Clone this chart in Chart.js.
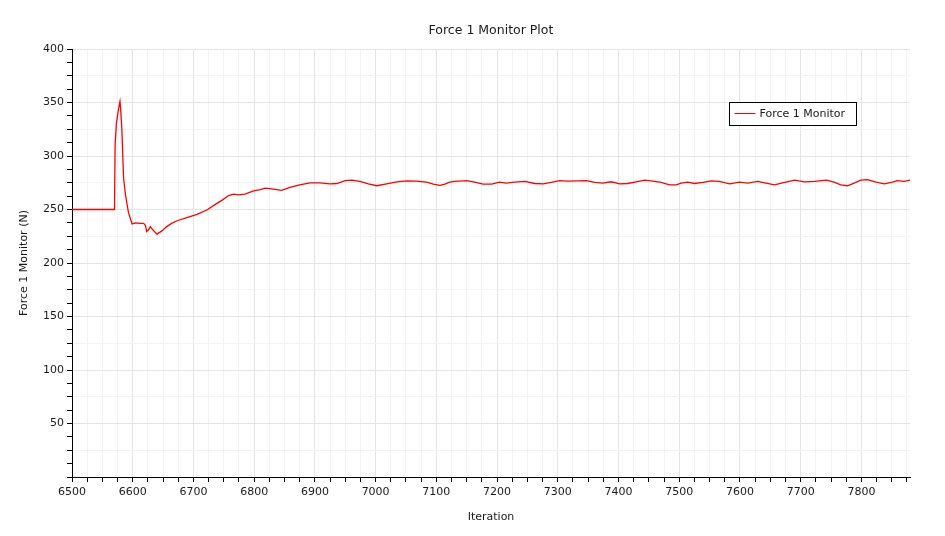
<!DOCTYPE html>
<html>
<head>
<meta charset="utf-8">
<title>Force 1 Monitor Plot</title>
<script src="https://cdn.jsdelivr.net/npm/chart.js@4.4.1/dist/chart.umd.min.js"></script>
<style>
    html, body { margin: 0; padding: 0; background: #ffffff; }
    #wrap { width: 945px; height: 536px; }
</style>
</head>
<body>
<div id="wrap"><canvas id="forceChart" width="945" height="536"></canvas></div>
<script>
// Iteration numbers and monitor values
const iterations = [
    6500, 6570, 6571, 6573, 6576, 6579, 6580, 6582, 6585, 6588, 6593, 6599,
    6605, 6612, 6618, 6621, 6623, 6626, 6629, 6633, 6640, 6648, 6656, 6664,
    6673, 6689, 6706, 6722, 6738, 6748, 6758, 6766, 6774, 6785, 6799, 6810,
    6818, 6832, 6845, 6859, 6875, 6892, 6908, 6925, 6936, 6950, 6961, 6974,
    6988, 7002, 7018, 7035, 7051, 7067, 7084, 7095, 7106, 7114, 7122, 7130,
    7150, 7163, 7177, 7191, 7204, 7215, 7229, 7246, 7262, 7276, 7289, 7303,
    7317, 7333, 7347, 7361, 7374, 7388, 7402, 7415, 7429, 7443, 7457, 7470,
    7484, 7495, 7503, 7514, 7525, 7539, 7553, 7566, 7583, 7599, 7613, 7629,
    7643, 7657, 7670, 7690, 7706, 7723, 7742, 7755, 7766, 7777, 7788, 7799,
    7810, 7824, 7838, 7851, 7859, 7870, 7880
];
const forceValues = [
    250, 250, 310, 330, 342, 351, 345, 326, 279, 264, 247, 236.5,
    237.5, 237, 237, 235, 229.5, 231, 234, 231, 227, 230, 234, 237,
    239.5, 242.5, 245.5, 249.5, 255.5, 259, 263, 264.3, 263.6, 264.3, 267.4, 268.6,
    270, 269, 267.8, 270.6, 273, 274.9, 274.9, 274, 274.3, 277, 277.4, 276.2,
    274, 272.2, 274, 275.9, 276.8, 276.5, 275.6, 273.7, 272.5, 273.7, 275.6, 276.2,
    277, 275.6, 273.7, 273.7, 275.6, 274.6, 275.6, 276.2, 274.3, 274, 275.3, 277,
    276.5, 276.8, 277, 275.3, 274.6, 275.9, 274, 274.3, 275.9, 277.4, 276.5, 275.3,
    273, 273, 274.6, 275.6, 274.3, 275.3, 276.8, 276.2, 274, 275.6, 274.6, 276.2,
    274.6, 273, 274.9, 277.4, 275.9, 276.2, 277.4, 275.6, 273, 272.2, 274.6, 277.4,
    278, 275.6, 274, 275.6, 277, 276.2, 277.4
];
const seriesName = 'Force 1 Monitor';
const chartTitle = 'Force 1 Monitor Plot';
const xTitle = 'Iteration';
const yTitle = 'Force 1 Monitor (N)';

const textColor = '#1a1a1a';
const fontFamily = '"DejaVu Sans", Verdana, sans-serif';

// Legend box drawn inside the plot area, like the original
const boxLegend = {
    id: 'boxLegend',
    afterDraw(chart) {
        const ctx = chart.ctx;
        const ds = chart.data.datasets[0];
        const x = 729.5, y = 102.5, w = 127, h = 23;
        ctx.save();
        ctx.fillStyle = '#ffffff';
        ctx.fillRect(x, y, w, h);
        ctx.strokeStyle = '#000000';
        ctx.lineWidth = 1;
        ctx.strokeRect(x, y, w, h);
        ctx.strokeStyle = ds.borderColor;
        ctx.beginPath();
        ctx.moveTo(x + 5, y + 11);
        ctx.lineTo(x + 26, y + 11);
        ctx.stroke();
        ctx.fillStyle = textColor;
        ctx.font = '11px ' + fontFamily;
        ctx.textBaseline = 'middle';
        ctx.fillText(ds.label, x + 30, y + 11.5);
        ctx.restore();
    }
};

const points = iterations.map((it, i) => ({ x: it, y: forceValues[i] }));

const ctx = document.getElementById('forceChart').getContext('2d');
const forceChart = new Chart(ctx, {
    type: 'line',
    data: {
        datasets: [{
            label: seriesName,
            data: points,
            borderColor: '#ff0000',
            borderWidth: 1.3,
            pointRadius: 0,
            tension: 0,
            fill: false
        }]
    },
    options: {
        responsive: false,
        animation: false,
        layout: { padding: { left: 0, right: 35, top: 0, bottom: 0 } },
        plugins: {
            legend: { display: false },
            tooltip: { enabled: false },
            title: {
                display: true,
                text: chartTitle,
                fullSize: false,
                color: textColor,
                font: { family: fontFamily, size: 12.5, weight: 'normal' },
                padding: { top: 23, bottom: 11 }
            }
        },
        scales: {
            x: {
                type: 'linear',
                min: 6500,
                max: 7880,
                afterFit: (scale) => { scale.height = 59; },
                border: { color: '#000000', width: 1 },
                grid: {
                    color: (c) => (c.tick.value % 100 === 0 ? '#e4e4e4' : '#f3f3f3'),
                    tickColor: '#000000',
                    tickLength: 5
                },
                ticks: {
                    stepSize: 25,
                    includeBounds: false,
                    autoSkip: false,
                    maxRotation: 0,
                    minRotation: 0,
                    padding: 4,
                    color: textColor,
                    font: { family: fontFamily, size: 11 },
                    callback: (v) => (v % 100 === 0 ? String(v) : '')
                },
                title: {
                    display: true,
                    text: xTitle,
                    color: textColor,
                    font: { family: fontFamily, size: 11 },
                    padding: { top: 0, bottom: 12 }
                }
            },
            y: {
                min: 0,
                max: 400,
                afterFit: (scale) => { scale.width = 72; },
                border: { color: '#000000', width: 1 },
                grid: {
                    color: (c) => {
                        const v = c.tick.value;
                        if (v % 50 === 0) return '#e4e4e4';
                        if (v % 25 === 0) return '#f3f3f3';
                        return 'rgba(0,0,0,0)';
                    },
                    tickColor: '#000000',
                    tickLength: 5
                },
                ticks: {
                    stepSize: 12.5,
                    autoSkip: false,
                    padding: 3,
                    color: textColor,
                    font: { family: fontFamily, size: 11 },
                    callback: (v) => (v % 50 === 0 && v !== 0 ? String(v) : '')
                },
                title: {
                    display: true,
                    text: yTitle,
                    color: textColor,
                    font: { family: fontFamily, size: 11 },
                    padding: { top: 18, bottom: 0 }
                }
            }
        }
    },
    plugins: [boxLegend]
});
</script>
</body>
</html>
